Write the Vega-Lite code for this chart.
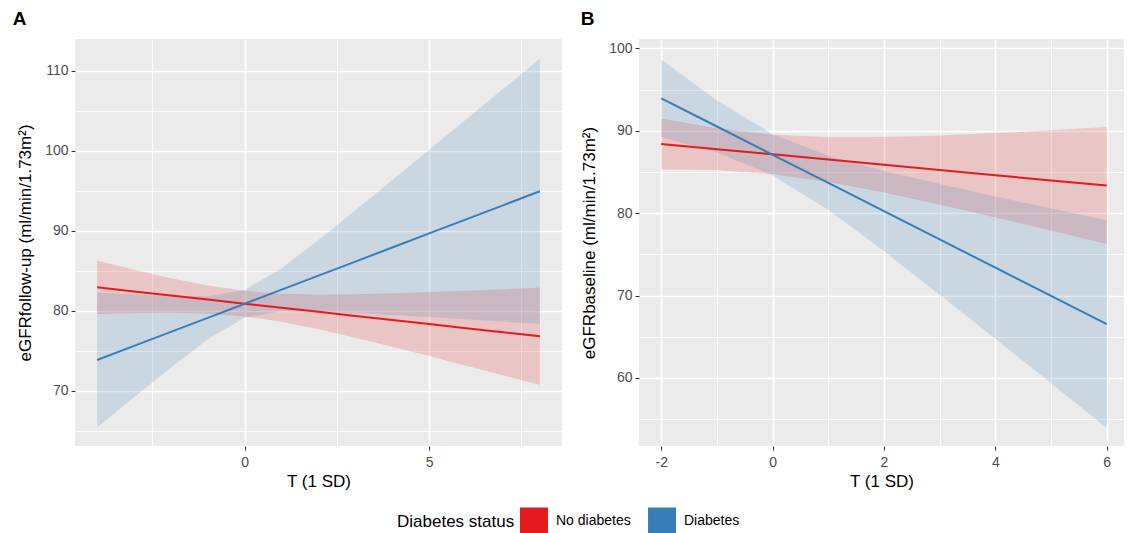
{
  "$schema": "https://vega.github.io/schema/vega-lite/v6.json",
  "padding": {"left": 12, "top": 10, "right": 0, "bottom": 0},
  "background": "white",
  "datasets": {
    "A": [
      {"status": "No diabetes", "t": -4, "fit": 82.92, "lo": 79.58, "hi": 86.26},
      {"status": "No diabetes", "t": -3, "fit": 82.41, "lo": 79.69, "hi": 85.13},
      {"status": "No diabetes", "t": -2, "fit": 81.90, "lo": 79.73, "hi": 84.07},
      {"status": "No diabetes", "t": -1, "fit": 81.39, "lo": 79.63, "hi": 83.15},
      {"status": "No diabetes", "t": 0, "fit": 80.88, "lo": 79.28, "hi": 82.48},
      {"status": "No diabetes", "t": 1, "fit": 80.37, "lo": 78.61, "hi": 82.13},
      {"status": "No diabetes", "t": 2, "fit": 79.86, "lo": 77.69, "hi": 82.03},
      {"status": "No diabetes", "t": 3, "fit": 79.35, "lo": 76.63, "hi": 82.07},
      {"status": "No diabetes", "t": 4, "fit": 78.84, "lo": 75.50, "hi": 82.18},
      {"status": "No diabetes", "t": 5, "fit": 78.33, "lo": 74.33, "hi": 82.33},
      {"status": "No diabetes", "t": 6, "fit": 77.82, "lo": 73.13, "hi": 82.51},
      {"status": "No diabetes", "t": 7, "fit": 77.31, "lo": 71.93, "hi": 82.69},
      {"status": "No diabetes", "t": 8, "fit": 76.80, "lo": 70.71, "hi": 82.89},
      {"status": "Diabetes", "t": -4, "fit": 73.84, "lo": 65.41, "hi": 82.27},
      {"status": "Diabetes", "t": -3, "fit": 75.60, "lo": 69.18, "hi": 82.02},
      {"status": "Diabetes", "t": -2, "fit": 77.36, "lo": 72.89, "hi": 81.83},
      {"status": "Diabetes", "t": -1, "fit": 79.11, "lo": 76.42, "hi": 81.80},
      {"status": "Diabetes", "t": 0, "fit": 80.87, "lo": 79.14, "hi": 82.60},
      {"status": "Diabetes", "t": 1, "fit": 82.63, "lo": 79.94, "hi": 85.32},
      {"status": "Diabetes", "t": 2, "fit": 84.38, "lo": 79.91, "hi": 88.85},
      {"status": "Diabetes", "t": 3, "fit": 86.14, "lo": 79.72, "hi": 92.56},
      {"status": "Diabetes", "t": 4, "fit": 87.90, "lo": 79.47, "hi": 96.33},
      {"status": "Diabetes", "t": 5, "fit": 89.66, "lo": 79.21, "hi": 100.11},
      {"status": "Diabetes", "t": 6, "fit": 91.41, "lo": 78.92, "hi": 103.90},
      {"status": "Diabetes", "t": 7, "fit": 93.17, "lo": 78.64, "hi": 107.70},
      {"status": "Diabetes", "t": 8, "fit": 94.93, "lo": 78.35, "hi": 111.51}
    ],
    "B": [
      {"status": "No diabetes", "t": -2, "fit": 88.40, "lo": 85.33, "hi": 91.47},
      {"status": "No diabetes", "t": -1, "fit": 87.76, "lo": 85.22, "hi": 90.30},
      {"status": "No diabetes", "t": 0, "fit": 87.13, "lo": 84.73, "hi": 89.53},
      {"status": "No diabetes", "t": 1, "fit": 86.50, "lo": 83.78, "hi": 89.22},
      {"status": "No diabetes", "t": 2, "fit": 85.87, "lo": 82.50, "hi": 89.24},
      {"status": "No diabetes", "t": 3, "fit": 85.23, "lo": 81.03, "hi": 89.43},
      {"status": "No diabetes", "t": 4, "fit": 84.60, "lo": 79.48, "hi": 89.72},
      {"status": "No diabetes", "t": 5, "fit": 83.97, "lo": 77.88, "hi": 90.06},
      {"status": "No diabetes", "t": 6, "fit": 83.34, "lo": 76.24, "hi": 90.44},
      {"status": "Diabetes", "t": -2, "fit": 93.93, "lo": 89.23, "hi": 98.63},
      {"status": "Diabetes", "t": -1, "fit": 90.51, "lo": 87.35, "hi": 93.67},
      {"status": "Diabetes", "t": 0, "fit": 87.08, "lo": 84.58, "hi": 89.58},
      {"status": "Diabetes", "t": 1, "fit": 83.66, "lo": 80.37, "hi": 86.95},
      {"status": "Diabetes", "t": 2, "fit": 80.23, "lo": 75.36, "hi": 85.10},
      {"status": "Diabetes", "t": 3, "fit": 76.81, "lo": 70.10, "hi": 83.52},
      {"status": "Diabetes", "t": 4, "fit": 73.38, "lo": 64.74, "hi": 82.02},
      {"status": "Diabetes", "t": 5, "fit": 69.96, "lo": 59.35, "hi": 80.57},
      {"status": "Diabetes", "t": 6, "fit": 66.53, "lo": 53.93, "hi": 79.13}
    ]
  },
  "config": {
    "view": {"fill": "#EBEBEB", "stroke": null},
    "font": "Liberation Sans",
    "axis": {
      "domain": false,
      "grid": true,
      "gridColor": "#FFFFFF",
      "tickColor": "#333333",
      "tickSize": 4,
      "tickWidth": 1.1,
      "labelColor": "#4D4D4D",
      "labelFontSize": 14,
      "labelPadding": 3,
      "titleFontSize": 17,
      "titleFontWeight": "normal",
      "titleColor": "#000000",
      "titlePadding": 10
    },
    "axisX": {"labelPadding": 5, "titlePadding": 4},
    "legend": {
      "orient": "bottom",
      "direction": "horizontal",
      "titleOrient": "left",
      "titleFontSize": 17,
      "titleFontWeight": "normal",
      "titleColor": "#000000",
      "labelFontSize": 14,
      "labelColor": "#000000",
      "symbolType": "M-1,-1H1V1H-1Z M-1,0H1",
      "symbolSize": 700,
      "symbolStrokeWidth": 1.5,
      "symbolOpacity": 1,
      "columnPadding": 14,
      "labelOffset": 8,
      "offset": 18,
      "layout": {"bottom": {"anchor": "middle"}}
    },
    "title": {"fontSize": 19, "fontWeight": "bold", "anchor": "start", "frame": "bounds", "color": "#000000"},
    "concat": {"spacing": 18}
  },
  "hconcat": [
    {
      "width": 487,
      "height": 407,
      "title": {"text": "A", "dx": -4, "offset": 10},
      "data": {"name": "A"},
      "encoding": {
        "x": {
          "field": "t", "type": "quantitative",
          "scale": {"domain": [-4.6, 8.6], "nice": false, "zero": false},
          "axis": {
            "title": "T (1 SD)",
            "values": [-2.5, 0, 2.5, 5, 7.5],
            "labelExpr": "datum.value % 5 === 0 ? '' + datum.value : ''",
            "gridWidth": {"condition": {"test": "datum.value % 5 === 0", "value": 1.6}, "value": 0.8},
            "tickOpacity": {"condition": {"test": "datum.value % 5 === 0", "value": 1}, "value": 0}
          }
        },
        "color": {
          "field": "status", "type": "nominal",
          "scale": {"domain": ["No diabetes", "Diabetes"], "range": ["#E41A1C", "#377EB8"]},
          "legend": {
            "title": "Diabetes status",
            "encode": {"symbols": {"update": {
              "fill": {"value": "#D0D0D0"},
              "fillOpacity": {"value": 1},
              "opacity": {"value": 1},
              "stroke": {"scale": "color", "field": "value"},
              "strokeWidth": {"value": 1.5}
            }}}
          }
        }
      },
      "layer": [
        {
          "mark": {"type": "area", "opacity": 0.18},
          "encoding": {
            "y": {
              "field": "lo", "type": "quantitative",
              "scale": {"domain": [63.09, 113.96], "nice": false, "zero": false},
              "axis": {
                "title": "eGFRfollow-up (ml/min/1.73m²)",
                "values": [65, 70, 75, 80, 85, 90, 95, 100, 105, 110],
                "labelExpr": "datum.value % 10 === 0 ? '' + datum.value : ''",
                "gridWidth": {"condition": {"test": "datum.value % 10 === 0", "value": 1.6}, "value": 0.8},
                "tickOpacity": {"condition": {"test": "datum.value % 10 === 0", "value": 1}, "value": 0}
              }
            },
            "y2": {"field": "hi"}
          }
        },
        {
          "mark": {"type": "line", "strokeWidth": 2},
          "encoding": {
            "y": {"field": "fit", "type": "quantitative"}
          }
        }
      ]
    },
    {
      "width": 485,
      "height": 407,
      "title": {"text": "B", "dx": 0, "offset": 10},
      "data": {"name": "B"},
      "encoding": {
        "x": {
          "field": "t", "type": "quantitative",
          "scale": {"domain": [-2.4, 6.31], "nice": false, "zero": false},
          "axis": {
            "title": "T (1 SD)",
            "values": [-2, -1, 0, 1, 2, 3, 4, 5, 6],
            "labelExpr": "datum.value % 2 === 0 ? '' + datum.value : ''",
            "gridWidth": {"condition": {"test": "datum.value % 2 === 0", "value": 1.6}, "value": 0.8},
            "tickOpacity": {"condition": {"test": "datum.value % 2 === 0", "value": 1}, "value": 0}
          }
        },
        "color": {
          "field": "status", "type": "nominal",
          "scale": {"domain": ["No diabetes", "Diabetes"], "range": ["#E41A1C", "#377EB8"]},
          "legend": {
            "title": "Diabetes status",
            "encode": {"symbols": {"update": {
              "fill": {"value": "#D0D0D0"},
              "fillOpacity": {"value": 1},
              "opacity": {"value": 1},
              "stroke": {"scale": "color", "field": "value"},
              "strokeWidth": {"value": 1.5}
            }}}
          }
        }
      },
      "layer": [
        {
          "mark": {"type": "area", "opacity": 0.18},
          "encoding": {
            "y": {
              "field": "lo", "type": "quantitative",
              "scale": {"domain": [51.74, 101.13], "nice": false, "zero": false},
              "axis": {
                "title": "eGFRbaseline (ml/min/1.73m²)",
                "values": [55, 60, 65, 70, 75, 80, 85, 90, 95, 100],
                "labelExpr": "datum.value % 10 === 0 ? '' + datum.value : ''",
                "gridWidth": {"condition": {"test": "datum.value % 10 === 0", "value": 1.6}, "value": 0.8},
                "tickOpacity": {"condition": {"test": "datum.value % 10 === 0", "value": 1}, "value": 0}
              }
            },
            "y2": {"field": "hi"}
          }
        },
        {
          "mark": {"type": "line", "strokeWidth": 2},
          "encoding": {
            "y": {"field": "fit", "type": "quantitative"}
          }
        }
      ]
    }
  ]
}
